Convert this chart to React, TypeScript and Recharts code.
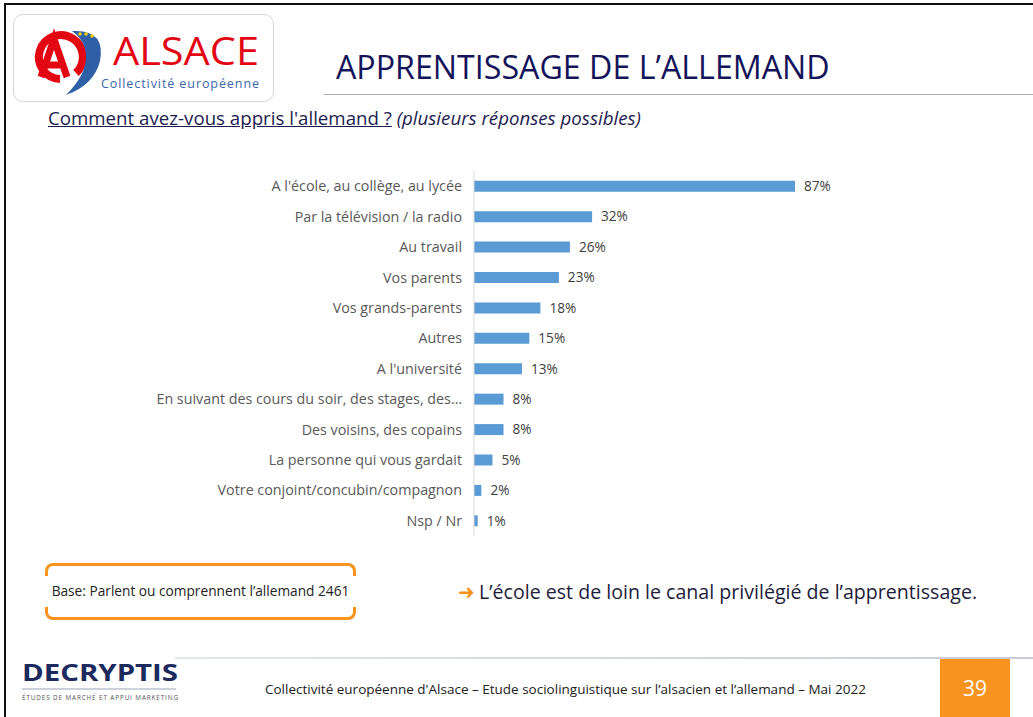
import { BarChart, Bar, XAxis, YAxis, LabelList } from "recharts";

const categories = [
  "A l'école, au collège, au lycée",
  "Par la télévision / la radio",
  "Au travail",
  "Vos parents",
  "Vos grands-parents",
  "Autres",
  "A l'université",
  "En suivant des cours du soir, des stages, des…",
  "Des voisins, des copains",
  "La personne qui vous gardait",
  "Votre conjoint/concubin/compagnon",
  "Nsp / Nr",
];
const values = [87, 32, 26, 23, 18, 15, 13, 8, 8, 5, 2, 1];

const data = categories.map((name, i) => ({ name, value: values[i] }));

const navy = "#14145a";
const orange = "#F7931E";
const font = "'Open Sans', sans-serif";

function AlsaceLogo() {
  return (
    <div
      style={{
        position: "absolute",
        left: 13,
        top: 14,
        width: 259,
        height: 86,
        border: "1px solid #d6d6d6",
        borderRadius: 10,
        background: "#fff",
      }}
    >
      <svg width={259} height={86} style={{ position: "absolute", left: 0, top: 0 }}>
        {/* red ring with an A */}
        <path d="M 46 64 A 22 22 0 1 1 62 58" fill="none" stroke="#e30613" strokeWidth={8} />
        <path d="M 27 62 L 40 24 L 53 62 M 32 50 L 48 50" fill="none" stroke="#e30613" strokeWidth={7} />
        {/* blue swoosh */}
        <path d="M 58 16 Q 92 14 86 46 Q 80 70 52 80 Q 72 60 72 42 Q 72 26 58 16 Z" fill="#2f5fa7" />
        <circle cx={66} cy={19} r={1.8} fill="#f2d200" />
        <circle cx={72} cy={19} r={1.8} fill="#f2d200" />
        <circle cx={78} cy={21} r={1.8} fill="#f2d200" />
        <text
          x={99}
          y={50}
          fill="#e30613"
          fontSize={38}
          fontFamily={font}
          textLength={146}
          lengthAdjust="spacingAndGlyphs"
        >
          ALSACE
        </text>
        <text x={87} y={73} fill="#3a67a8" fontSize={12.5} fontFamily={font} textLength={158}>
          Collectivité européenne
        </text>
      </svg>
    </div>
  );
}

function DecryptisLogo() {
  return (
    <svg width={170} height={54} style={{ position: "absolute", left: 20, top: 654 }}>
      <text
        x={2}
        y={27}
        fill="#1c2a5e"
        fontSize={24}
        fontWeight={700}
        fontFamily={font}
        textLength={156}
        lengthAdjust="spacingAndGlyphs"
      >
        DECRYPTIS
      </text>
      <line x1={2} y1={35} x2={156} y2={35} stroke="#9aa3b8" strokeWidth={1} />
      <text x={2} y={46} fill="#555" fontSize={6.3} fontFamily={font} textLength={156}>
        ÉTUDES DE MARCHÉ ET APPUI MARKETING
      </text>
    </svg>
  );
}

export default function App() {
  return (
    <div
      style={{
        position: "absolute",
        left: 0,
        top: 0,
        width: 1033,
        height: 717,
        background: "#fff",
        overflow: "hidden",
        fontFamily: font,
      }}
    >
      {/* slide frame */}
      <div
        style={{
          position: "absolute",
          left: 4,
          top: 3,
          width: 1040,
          height: 730,
          borderLeft: "2px solid #111",
          borderTop: "2px solid #111",
        }}
      />
      <AlsaceLogo />
      <div
        style={{
          position: "absolute",
          left: 336,
          top: 45,
          fontSize: 32.2,
          color: navy,
          whiteSpace: "nowrap",
        }}
      >
        APPRENTISSAGE DE L’ALLEMAND
      </div>
      <div style={{ position: "absolute", left: 324, top: 94, width: 720, height: 1, background: "#aaa" }} />
      <div
        style={{
          position: "absolute",
          left: 48,
          top: 105,
          fontSize: 18.7,
          color: "#1d1d4f",
          whiteSpace: "nowrap",
        }}
      >
        <span style={{ textDecoration: "underline" }}>Comment avez-vous appris l'allemand ?</span>{" "}
        <i>(plusieurs réponses possibles)</i>
      </div>

      <div style={{ position: "absolute", left: 40, top: 171 }}>
        <BarChart
          width={860}
          height={365}
          data={data}
          layout="vertical"
          margin={{ top: 0, right: 57, bottom: 0, left: 0 }}
          barCategoryGap="32%"
        >
          <XAxis type="number" domain={[0, 100]} hide />
          <YAxis
            type="category"
            dataKey="name"
            width={434}
            interval={0}
            tickLine={false}
            tickMargin={6}
            axisLine={{ stroke: "#d9d9d9" }}
            tick={{ fill: "#595959", fontSize: 14.3, fontFamily: font }}
          />
          <Bar dataKey="value" fill="#5B9BD5" isAnimationActive={false}>
            <LabelList
              dataKey="value"
              position="right"
              offset={9}
              formatter={(v: number) => `${v}%`}
              style={{ fill: "#404040", fontSize: 13.6, fontFamily: font }}
            />
          </Bar>
        </BarChart>
      </div>

      {/* base box: two orange brackets */}
      <div style={{ position: "absolute", left: 45, top: 563, width: 311, height: 57 }}>
        <div
          style={{
            position: "absolute",
            left: 0,
            top: 0,
            width: 311,
            height: 13,
            border: `3px solid ${orange}`,
            borderBottom: "none",
            borderRadius: "8px 8px 0 0",
            boxSizing: "border-box",
          }}
        />
        <div
          style={{
            position: "absolute",
            left: 0,
            bottom: 0,
            width: 311,
            height: 13,
            border: `3px solid ${orange}`,
            borderTop: "none",
            borderRadius: "0 0 8px 8px",
            boxSizing: "border-box",
          }}
        />
      </div>
      <div
        style={{
          position: "absolute",
          left: 45,
          top: 581,
          width: 311,
          textAlign: "center",
          fontSize: 13.7,
          color: "#222",
          whiteSpace: "nowrap",
        }}
      >
        Base: Parlent ou comprennent l’allemand 2461
      </div>

      <div
        style={{
          position: "absolute",
          left: 458,
          top: 578,
          fontSize: 19.6,
          color: "#1d1d3a",
          whiteSpace: "nowrap",
        }}
      >
        <span style={{ color: orange, marginRight: 4 }}>➜</span>L’école est de loin le canal privilégié de l’apprentissage.
      </div>

      {/* footer */}
      <div
        style={{
          position: "absolute",
          left: 175,
          top: 657,
          width: 860,
          height: 2,
          background: "linear-gradient(to right, #e4e6ee, #c9cbd6)",
        }}
      />
      <DecryptisLogo />
      <div
        style={{
          position: "absolute",
          left: 265,
          top: 680,
          fontSize: 13.5,
          color: "#222",
          whiteSpace: "nowrap",
        }}
      >
        Collectivité européenne d'Alsace – Etude sociolinguistique sur l’alsacien et l’allemand – Mai 2022
      </div>
      <div
        style={{
          position: "absolute",
          left: 940,
          top: 659,
          width: 70,
          height: 60,
          background: orange,
          color: "#fff",
          fontSize: 21,
          textAlign: "center",
          lineHeight: "58px",
        }}
      >
        39
      </div>
    </div>
  );
}
